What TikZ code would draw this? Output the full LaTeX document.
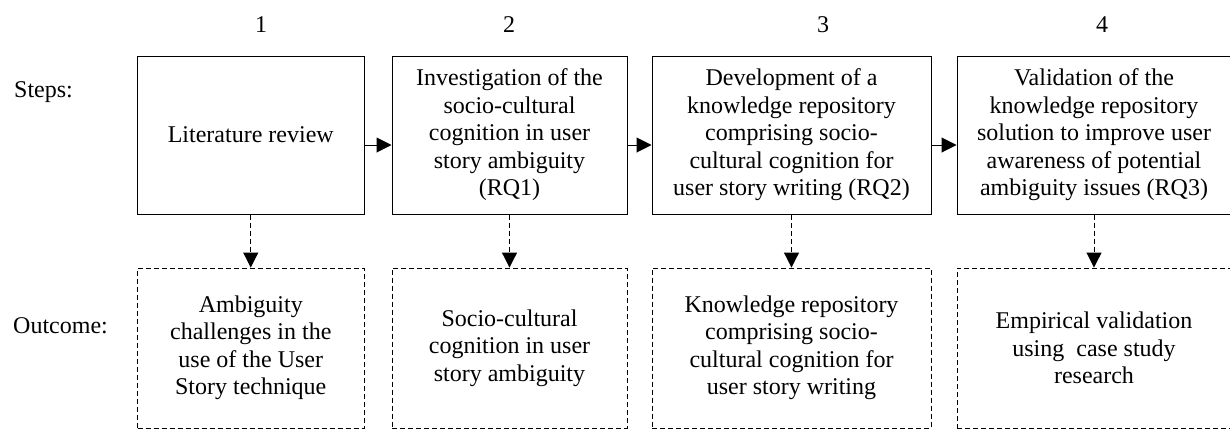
\documentclass[tikz,border=0pt]{standalone}
\usepackage{fontspec}
\setmainfont{Liberation Serif}
\usetikzlibrary{arrows.meta}
\begin{document}
\begin{tikzpicture}[x=1pt,y=-1pt,
  txt/.style={font=\fontsize{24}{27.5}\selectfont},
  stepbox/.style={draw, line width=1pt, minimum height=158pt, align=center, inner sep=0pt, txt},
  outbox/.style={draw, line width=0.9pt, dash pattern=on 5pt off 3pt, minimum height=160pt, align=center, inner sep=0pt, txt},
  harr/.style={line width=1pt, -{Triangle[length=15pt,width=15pt]}},
  varr/.style={line width=1pt, dash pattern=on 5pt off 3pt, -{Triangle[length=15pt,width=15pt]}},
  lbl/.style={anchor=base, inner sep=0pt, txt},
  side/.style={anchor=base west, inner sep=0pt, txt}]
\useasboundingbox (0,0) rectangle (1230,429);
% numbers
\node[lbl] (n1) at (261,32) {1};
\node[lbl] (n2) at (509,32) {2};
\node[lbl] (n3) at (823,32) {3};
\node[lbl] (n4) at (1102,32) {4};
% side labels
\node[side] (steps) at (14,97) {Steps:};
\node[side] (outc) at (13,333) {Outcome:};
% step boxes
\node[stepbox, minimum width=226.5pt] (b1) at (250.75,135) {Literature review};
\node[stepbox, minimum width=235pt] (b2) at (509.5,135) {Investigation of the\\socio-cultural\\cognition in user\\story ambiguity\\(RQ1)};
\node[stepbox, minimum width=279pt] (b3) at (791.5,135) {Development of a\\knowledge repository\\comprising socio-\\cultural cognition for\\user story writing (RQ2)};
\node[stepbox, minimum width=274pt] (b4) at (1094,135) {Validation of the\\knowledge repository\\solution to improve user\\awareness of potential\\ambiguity issues (RQ3)};
% outcome boxes
\node[outbox, minimum width=226.5pt] (o1) at (250.75,348) {Ambiguity\\challenges in the\\use of the User\\Story technique};
\node[outbox, minimum width=235pt] (o2) at (509.5,348) {Socio-cultural\\cognition in user\\story ambiguity};
\node[outbox, minimum width=279pt] (o3) at (791.5,348) {Knowledge repository\\comprising socio-\\cultural cognition for\\user story writing};
\node[outbox, minimum width=274pt] (o4) at (1094,348) {Empirical validation\\using\ \ case study\\research};
% horizontal arrows
\draw[harr] ([yshift=-10pt]b1.east) -- ([yshift=-10pt]b2.west);
\draw[harr] ([yshift=-10pt]b2.east) -- ([yshift=-10pt]b3.west);
\draw[harr] ([yshift=-10pt]b3.east) -- ([yshift=-10pt]b4.west);
% vertical dashed arrows
\draw[varr] (b1.south) -- (o1.north);
\draw[varr] (b2.south) -- (o2.north);
\draw[varr] (b3.south) -- (o3.north);
\draw[varr] (b4.south) -- (o4.north);
\end{tikzpicture}
\end{document}
